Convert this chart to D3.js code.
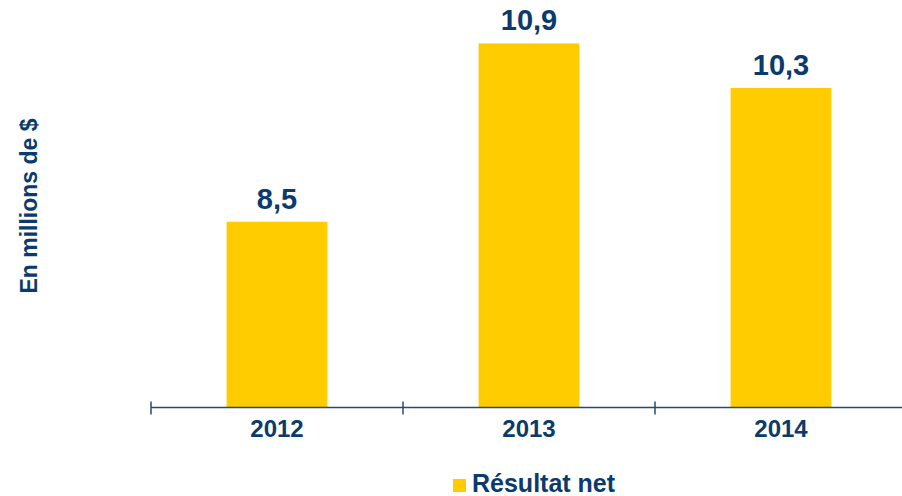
<!DOCTYPE html>
<html>
<head>
<meta charset="utf-8">
<script src="https://cdn.jsdelivr.net/npm/d3@7"></script>
<style>
  body { margin: 0; background: #ffffff; }
  text { font-family: "Liberation Sans", Arial, sans-serif; font-weight: bold; fill: #0b3a6c; }
</style>
</head>
<body>
<div id="chart"></div>
<script>
var years = ["2012", "2013", "2014"];
var resultatNet = [8.5, 10.9, 10.3];
var valueLabels = ["8,5", "10,9", "10,3"];
var seriesName = "Résultat net";
var yTitle = "En millions de $";

var barColor = "#ffcc00",
    axisColor = "#274a72";

function drawChart(){
	var width = 902, height = 496;
	var margin = {top: 36, right: -5, bottom: 89, left: 151};

	var svg = d3.select("#chart").append("svg")
	    .attr("width", width)
	    .attr("height", height);

	var x = d3.scaleBand()
	    .domain(years)
	    .range([margin.left, width - margin.right])
	    .paddingInner(0.6).paddingOuter(0.3);

	var y = d3.scaleLinear()
	    .domain([6, 11])
	    .range([height - margin.bottom + 0.5, margin.top]);

	var baseY = y(6);

	svg.selectAll(".bar")
	    .data(resultatNet)
	  .enter().append("rect")
	    .attr("class", "bar")
	    .attr("x", function(d, i){ return x(years[i]); })
	    .attr("y", function(d){ return y(d); })
	    .attr("width", x.bandwidth())
	    .attr("height", function(d){ return baseY - y(d); })
	    .style("fill", barColor);

	// axis line + ticks on band edges
	svg.append("line")
	    .attr("x1", margin.left).attr("x2", width)
	    .attr("y1", baseY).attr("y2", baseY)
	    .style("stroke", axisColor).style("stroke-width", 1.5);

	var step = x.step();
	var edges = d3.range(years.length + 1).map(function(i){ return margin.left + i * step; });
	svg.selectAll(".tick")
	    .data(edges)
	  .enter().append("line")
	    .attr("x1", function(d){ return d; }).attr("x2", function(d){ return d; })
	    .attr("y1", baseY - 6).attr("y2", baseY + 7)
	    .style("stroke", axisColor).style("stroke-width", 1.5);

	svg.selectAll(".yearLabel")
	    .data(years)
	  .enter().append("text")
	    .attr("x", function(d){ return x(d) + x.bandwidth()/2; })
	    .attr("y", baseY + 29)
	    .attr("text-anchor", "middle")
	    .style("font-size", "24px")
	    .text(function(d){ return d; });

	svg.selectAll(".valueLabel")
	    .data(resultatNet)
	  .enter().append("text")
	    .attr("x", function(d, i){ return x(years[i]) + x.bandwidth()/2; })
	    .attr("y", function(d){ return y(d) - 13; })
	    .attr("text-anchor", "middle")
	    .style("font-size", "29px")
	    .text(function(d, i){ return valueLabels[i]; });

	svg.append("text")
	    .attr("transform", "translate(37,206) rotate(-90)")
	    .attr("text-anchor", "middle")
	    .style("font-size", "23px")
	    .text(yTitle);

	// legend
	svg.append("rect")
	    .attr("x", 453).attr("y", 479)
	    .attr("width", 13).attr("height", 13)
	    .style("fill", barColor);
	svg.append("text")
	    .attr("x", 472).attr("y", 492)
	    .style("font-size", "25px")
	    .text(seriesName);
}

drawChart();
</script>
</body>
</html>
